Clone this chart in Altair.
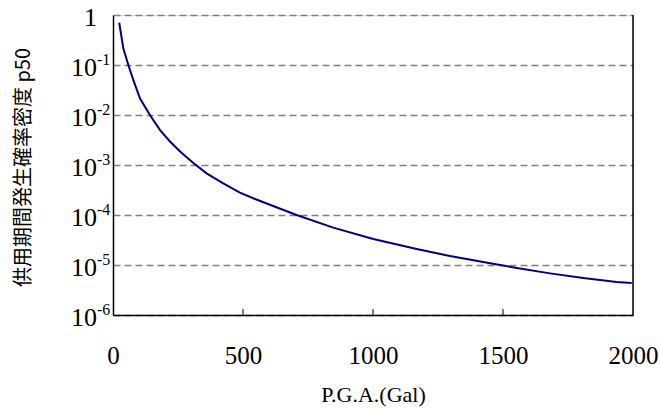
import altair as alt
import pandas as pd

# ---- data ----
pga = [24, 40, 59, 76, 104, 142, 181, 219, 258, 309, 360, 424, 488, 549, 591,
       706, 847, 1001, 1168, 1296, 1424, 1553, 1681, 1809, 1937, 1995]
prob = [0.70, 0.21, 0.100, 0.054, 0.0214, 0.0100, 0.0050, 0.00295, 0.00186,
        0.00110, 6.8e-4, 4.3e-4, 2.8e-4, 2.07e-4, 1.70e-4, 1.0e-4, 5.6e-5, 3.3e-5,
        2.09e-5, 1.51e-5, 1.15e-5, 8.7e-6, 6.8e-6, 5.5e-6, 4.57e-6, 4.37e-6]

y_ticks = [1, 1e-1, 1e-2, 1e-3, 1e-4, 1e-5, 1e-6]
y_base = ["1", "10", "10", "10", "10", "10", "10"]
y_exp = ["", "-1", "-2", "-3", "-4", "-5", "-6"]
x_ticks = [0, 500, 1000, 1500, 2000]
inner_ticks = [500, 1000, 1500]

title_text = "(a)  地震ハザード曲線"
x_title = "P.G.A.(Gal)"
y_title = "供用期間発生確率密度 p50"

SERIF = "Liberation Serif"
CJK = "Noto Sans CJK JP"

df = pd.DataFrame({"pga": pga, "p": prob})
ylab = pd.DataFrame({"p": y_ticks, "base": y_base, "exp": y_exp})
tk = pd.DataFrame({"pga": inner_ticks})
one = pd.DataFrame({"a": [0]})

xscale = alt.Scale(domain=[0, 2000], nice=False, zero=False)
yscale = alt.Scale(type="log", domain=[1e-6, 1], nice=False)

line = alt.Chart(df).mark_line(color="#000080", strokeWidth=2).encode(
    x=alt.X("pga:Q", scale=xscale, title=x_title,
            axis=alt.Axis(values=x_ticks, format="d", labelFont=SERIF,
                          labelFontSize=25, labelBaseline="middle",
                          labelPadding=40)),
    y=alt.Y("p:Q", scale=yscale, title=y_title,
            axis=alt.Axis(values=y_ticks, labels=False)),
)

ticks = alt.Chart(tk).mark_rule(color="black", strokeWidth=1).encode(
    x=alt.X("pga:Q", scale=xscale),
    y=alt.value(300), y2=alt.value(294),
)

right = alt.Chart(one).mark_rule(color="black", strokeWidth=1.5).encode(
    x=alt.value(520), y=alt.value(0), y2=alt.value(300)
)

base_lbl = alt.Chart(ylab).mark_text(align="right", baseline="middle", dy=3,
                                     font=SERIF, fontSize=26, color="black").encode(
    y=alt.Y("p:Q", scale=yscale),
    x=alt.value(-16),
    text="base:N",
)
exp_lbl = alt.Chart(ylab).mark_text(align="left", baseline="middle", dy=-5,
                                    font=SERIF, fontSize=16, color="black").encode(
    y=alt.Y("p:Q", scale=yscale),
    x=alt.value(-16),
    text="exp:N",
)

chart = alt.layer(line, ticks, right, base_lbl, exp_lbl).properties(
    width=520, height=300,
    autosize="none",
    padding={"left": 113, "top": 15, "right": 27, "bottom": 93},
    title=alt.TitleParams(title_text, font=CJK, fontSize=24, fontWeight="bold",
                          color="black", anchor="middle", offset=12,
                          frame="group", baseline="alphabetic", dx=-18),
).configure_view(
    stroke=None
).configure(
    background="white"
).configure_axisX(
    grid=False, ticks=False, tickSize=0, domainColor="black", domainWidth=1.5,
    labelColor="black", labelFlush=False, labelFont=SERIF,
    titleFont=SERIF, titleFontSize=22, titleFontWeight="normal",
    titleColor="black", titleBaseline="alphabetic", titleY=86,
).configure_axisY(
    ticks=False, grid=True, gridColor="#808080", gridDash=[7, 4], gridWidth=1.5,
    gridOpacity=1, domainColor="black", domainWidth=1.5,
    titleFont=CJK, titleFontSize=20, titleFontWeight="normal", titleColor="black",
    titleAngle=-90, titleAlign="center", titleBaseline="middle",
    titleX=-90, titleY=152,
)

chart.save("out.html", embed_options={"renderer": "svg", "actions": False})
